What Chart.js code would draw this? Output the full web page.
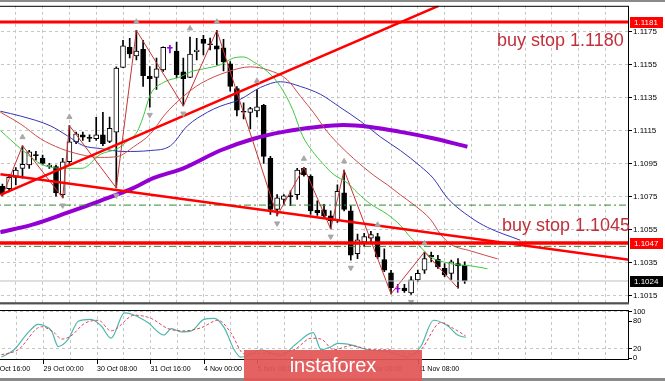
<!DOCTYPE html>
<html><head><meta charset="utf-8">
<script src="https://cdn.jsdelivr.net/npm/chart.js@4.4.0/dist/chart.umd.min.js"></script>
<style>
html,body{margin:0;padding:0;background:#fff;}
body{width:665px;height:381px;position:relative;overflow:hidden;font-family:"Liberation Sans",Arial,sans-serif;}
#main{position:absolute;left:-11px;top:0;}
#osc{position:absolute;left:-11px;top:300px;}
.note{position:absolute;color:#c0303a;font-size:18px;line-height:20px;white-space:nowrap;}
#wm{position:absolute;left:244px;top:350px;width:178px;height:31px;background:rgba(226,86,86,0.93);color:#fff;font-size:20px;text-align:center;line-height:31px;}
.edge{position:absolute;left:0;width:665px;background:#8a8a8a;}
</style></head><body>
<canvas id="main" width="676" height="310"></canvas>
<canvas id="osc" width="676" height="81"></canvas>
<div class="edge" style="top:0;height:2px"></div>
<div class="edge" style="top:378px;height:3px"></div>
<div class="note" style="left:497px;top:30px">buy stop 1.1180</div>
<div class="note" style="left:502px;top:215px">buy stop 1.1045</div>
<div id="wm">instaforex</div>
<script>
// ---------- data (H4 bars, index 0..69) ----------
const opens = [1.10814,1.10800,1.10868,1.10923,1.10943,1.11007,1.10983,1.10933,1.10933,1.10764,
1.10963,1.11083,1.11126,1.11108,1.11102,1.11126,1.11086,1.11142,1.11534,1.11657,
1.11604,1.11645,1.11480,1.11474,1.11520,1.11650,1.11634,1.11508,1.11474,1.11630,
1.11705,1.11675,1.11665,1.11653,1.11556,1.11407,1.11265,1.11262,1.11271,1.11305,
1.10983,1.10674,1.10734,1.10754,1.10764,1.10923,1.10874,1.10668,1.10672,1.10635,
1.10605,1.10774,1.10665,1.10406,1.10475,1.10499,1.10509,1.10370,1.10289,1.10190,
1.10197,1.10167,1.10247,1.10306,1.10396,1.10372,1.10316,1.10286,1.10346,1.10336];
const highs = [1.10828,1.10887,1.10927,1.11060,1.11032,1.11026,1.11003,1.10953,1.10943,1.10983,
1.11182,1.11142,1.11142,1.11126,1.11232,1.11262,1.11234,1.11538,1.11699,1.11711,
1.11759,1.11699,1.11540,1.11592,1.11659,1.11669,1.11689,1.11592,1.11719,1.11711,
1.11729,1.11713,1.11759,1.11705,1.11570,1.11419,1.11320,1.11293,1.11401,1.11311,
1.10995,1.10764,1.10764,1.10786,1.10923,1.10929,1.10883,1.10726,1.10704,1.10666,
1.10823,1.10913,1.10696,1.10525,1.10529,1.10541,1.10529,1.10435,1.10305,1.10219,
1.10219,1.10266,1.10306,1.10416,1.10416,1.10396,1.10346,1.10366,1.10376,1.10356];
const lows = [1.10756,1.10780,1.10823,1.10863,1.10923,1.10973,1.10943,1.10923,1.10754,1.10744,
1.10953,1.11072,1.11092,1.11084,1.11092,1.11060,1.11078,1.10804,1.11533,1.11592,
1.11580,1.11419,1.11293,1.11401,1.11510,1.11622,1.11472,1.11301,1.11472,1.11580,
1.11610,1.11640,1.11550,1.11514,1.11390,1.11241,1.11222,1.11162,1.11234,1.10953,
1.10644,1.10635,1.10704,1.10696,1.10734,1.10875,1.10644,1.10637,1.10625,1.10555,
1.10595,1.10665,1.10366,1.10376,1.10450,1.10465,1.10376,1.10296,1.10162,1.10171,
1.10170,1.10159,1.10237,1.10286,1.10356,1.10316,1.10266,1.10249,1.10197,1.10226];
const closes = [1.10768,1.10868,1.10913,1.10947,1.11023,1.10999,1.10953,1.10943,1.10774,1.10963,
1.11083,1.11132,1.11112,1.11105,1.11126,1.11072,1.11166,1.11530,1.11665,1.11616,
1.11634,1.11484,1.11466,1.11526,1.11657,1.11650,1.11490,1.11466,1.11616,1.11640,
1.11680,1.11672,1.11645,1.11568,1.11419,1.11275,1.11263,1.11285,1.11295,1.10995,
1.10674,1.10744,1.10756,1.10751,1.10913,1.10883,1.10665,1.10654,1.10635,1.10605,
1.10784,1.10674,1.10396,1.10489,1.10509,1.10521,1.10386,1.10306,1.10199,1.10190,
1.10181,1.10247,1.10286,1.10376,1.10386,1.10326,1.10277,1.10356,1.10332,1.10240];

const priceTicks = [1.1015,1.1035,1.1055,1.1075,1.1095,1.1115,1.1135,1.1155,1.1175];
const timeLabels = ['25 Oct 16:00','29 Oct 00:00','30 Oct 08:00','31 Oct 16:00','4 Nov 00:00','5 Nov 08:00','6 Nov 16:00','8 Nov 00:00','11 Nov 08:00'];
const timeLabelBars = [-2,6,14,22,30,38,46,54,62];
const gridBars = [-2,2,6,10,14,18,22,26,30,34,38,42,46,50,54,58,62,66,70,74,78,82,86,90];

// moving averages [bar, price]
const maFast = [[-0.3,1.11152],[2.7,1.11043],[6.1,1.10943],[9.7,1.10923],[11.9,1.10923],[14.6,1.11007],[17.2,1.11043],[18.7,1.1109],[20.1,1.11144],[21,1.11234],[22.1,1.11371],[24,1.11443],[26.6,1.11478],[28.1,1.11508],[30,1.11526],[32.5,1.1155],[34.5,1.11592],[36,1.11598],[37.5,1.11568],[39.6,1.11508],[41.5,1.11419],[43.3,1.11281],[44.8,1.1112],[46.3,1.11025],[47.8,1.10953],[49.4,1.10887],[51.5,1.10834],[53,1.10774],[54.9,1.10708],[57.5,1.10643],[59.4,1.10577],[60.9,1.10505],[62.4,1.10446],[63.9,1.10386],[65.8,1.10356],[67.9,1.10338],[69.9,1.10332],[72.4,1.10314]];
const maMid = [[-0.3,1.11263],[2.7,1.11192],[5.7,1.11102],[8.7,1.11043],[11.6,1.11007],[14.6,1.10989],[17.2,1.10995],[19.6,1.11054],[22.1,1.11132],[24.3,1.11251],[27,1.11359],[29.6,1.11437],[33.6,1.11508],[37,1.11538],[39.6,1.1152],[42.5,1.1146],[44.5,1.11359],[46.4,1.11263],[48.5,1.11144],[50.4,1.1106],[52.4,1.10983],[55.4,1.10881],[57.5,1.10822],[59.4,1.10762],[61.6,1.10696],[63.9,1.10613],[65.4,1.10523],[66.9,1.10463],[69.9,1.10422],[73.9,1.10374]];
const maSlow = [[-0.3,1.11269],[2.7,1.1124],[7.2,1.1118],[9.7,1.1112],[12.1,1.1106],[14.6,1.11043],[18.1,1.11025],[22.1,1.11031],[25.1,1.1106],[27.6,1.1118],[30.6,1.11263],[32.5,1.11299],[35.5,1.11341],[38.5,1.11413],[41.5,1.11448],[44.5,1.11419],[47.5,1.11371],[50.4,1.11293],[53.4,1.1121],[56.4,1.11114],[59.4,1.11031],[62.4,1.10935],[64.3,1.10863],[66.4,1.10744],[69.9,1.10625],[72.4,1.10565],[77.3,1.10487]];
const maLong = [[-0.3,1.10535],[4.6,1.10583],[9.7,1.10654],[14.6,1.10726],[19.6,1.10804],[22.5,1.10863],[27,1.10923],[32.5,1.11031],[37.5,1.11102],[41.9,1.11144],[47,1.11174],[50.9,1.11186],[54.9,1.11174],[59.4,1.11144],[63.9,1.11108],[69.4,1.11054]];

const zigzagBars = [0,3,9,10,17,20,27,32,41,45,49,51,58,63,68];
const fractalUpBars = [3,10,20,28,32,38,45,51,56,63];
const fractalDownBars = [9,17,22,27,41,49,52,61];

const trendUp = [[-0.3,1.10762],[65.1,1.11908]];
const trendDown = [[-0.3,1.10887],[93.6,1.10368]];
const redLevels = [1.1181,1.1047];
const greenLevels = [1.1070,1.1045];
const lastPrice = 1.1024;

const stochMain = [[-0.3,2],[1.6,18],[3.7,55],[5.2,73],[6.1,70],[7.2,59],[8.2,25],[9.7,41],[11.2,80],[13.1,84],[14.6,70],[16.1,43],[18.1,98],[19.6,93],[21.6,77],[24,50],[25.1,64],[26.6,57],[28.1,59],[30,84],[31.5,86],[33,66],[34.5,18],[35.5,2],[37,8],[38.5,18],[39.5,14],[41.5,5],[43.7,30],[46.3,55],[47.5,18],[49,25],[50,32],[51.5,30],[54.5,18],[57.5,14],[60.4,2],[62.4,25],[64.3,82],[66.4,70],[67.9,50],[69.1,45]];
const stochSignal = [[-0.3,7],[2.2,18],[5.7,68],[7.6,55],[8.7,41],[10.1,48],[12.1,75],[14.2,82],[16.1,59],[19.6,93],[22.1,86],[24.6,64],[27,59],[29.6,66],[32.1,82],[34,55],[36,9],[38.5,10],[41.5,10],[43.7,20],[46,43],[47.5,41],[49.4,18],[52,27],[55,18],[57.5,18],[60.9,9],[62.4,18],[65.4,77],[67.3,64],[69.1,48]];
const stochTicks = [0,20,80,100];

// ---------- chart ----------
Chart.defaults.font.family = '"Liberation Sans", Arial, sans-serif';
const X_MIN = -2, X_MAX = 93.52;
const bars = opens.map((_, i) => i);
const PURPLE = '#8a00e6';
const pts = arr => arr.map(([x, y]) => ({x, y}));
const hline = v => [{x: X_MIN, y: v}, {x: X_MAX, y: v}];
const lineDs = (data, color, width, extra) => Object.assign({type:'line', data, borderColor: color, borderWidth: width, pointRadius: 0, fill: false}, extra || {});

const zigzagData = zigzagBars.map((b, k) => ({x: b, y: k % 2 === 0 ? lows[b] : highs[b]}));

const frame = (bottomWidth) => ({
  id: 'frame',
  afterDraw(chart) {
    const {ctx, chartArea: a} = chart;
    ctx.save();
    ctx.strokeStyle = '#000'; ctx.lineWidth = 1;
    ctx.strokeRect(a.left + 0.5, a.top + 0.5, a.right - a.left - 1, a.bottom - a.top - 1);
    if (bottomWidth) {
      ctx.fillStyle = '#505050';
      ctx.fillRect(a.left, a.bottom - bottomWidth, a.right - a.left, bottomWidth);
    }
    ctx.restore();
  }
});

const priceBoxes = {
  id: 'priceBoxes',
  afterDraw(chart) {
    const {ctx, chartArea: a, scales} = chart;
    const list = [[redLevels[0], '#ff0000'], [redLevels[1], '#ff0000'], [lastPrice, '#000000']];
    ctx.save();
    ctx.font = '8px "Liberation Sans", Arial, sans-serif';
    ctx.textBaseline = 'middle';
    list.forEach(([v, bg]) => {
      const y = Math.round(scales.y.getPixelForValue(v));
      ctx.fillStyle = bg;
      ctx.fillRect(a.right + 1, y - 5, 33, 11);
      ctx.fillStyle = '#fff';
      ctx.fillText(v.toFixed(4), a.right + 5, y + 0.5);
    });
    ctx.restore();
  }
};

new Chart(document.getElementById('main'), {
  type: 'line',
  data: {
    datasets: [
      {type:'bar', data: bars.map(i => ({x: i, y: [lows[i], highs[i]]})),
       backgroundColor: bars.map(i => closes[i] === opens[i] ? PURPLE : '#000'),
       barThickness: 1, grouped: false, order: 20},
      {type:'bar', data: bars.map(i => ({x: i, y: [Math.min(opens[i], closes[i]), Math.max(opens[i], closes[i])]})),
       backgroundColor: bars.map(i => closes[i] > opens[i] ? '#fff' : (closes[i] < opens[i] ? '#000' : PURPLE)),
       borderColor: bars.map(i => closes[i] === opens[i] ? PURPLE : '#000'),
       borderWidth: 1, borderSkipped: false, barThickness: 5, minBarLength: 1, grouped: false, order: 19},
      lineDs(pts(maLong), '#9400d3', 4, {tension: 0.4, cubicInterpolationMode: 'monotone', order: 15}),
      lineDs(pts(maSlow), '#3434b4', 1, {cubicInterpolationMode: 'monotone', order: 14}),
      lineDs(pts(maMid), '#cc4a4a', 1, {cubicInterpolationMode: 'monotone', order: 13}),
      lineDs(pts(maFast), '#3cc83c', 1, {cubicInterpolationMode: 'monotone', order: 12}),
      lineDs(zigzagData, '#c83232', 1, {order: 11}),
      lineDs(hline(greenLevels[0]), '#2f8a2f', 1, {borderDash: [7, 3, 2, 3], order: 10}),
      lineDs(hline(greenLevels[1]), '#2f8a2f', 1, {borderDash: [7, 3, 2, 3], order: 10}),
      lineDs(hline(lastPrice), '#bdbdbd', 1, {order: 10}),
      lineDs(pts(trendUp), '#ff0000', 2.5, {order: 5}),
      lineDs(pts(trendDown), '#ff0000', 2.5, {order: 5}),
      lineDs(hline(redLevels[0]), '#ff0000', 3, {order: 4}),
      lineDs(hline(redLevels[1]), '#ff0000', 3.5, {order: 4}),
      {type:'line', showLine: false, data: fractalUpBars.map(b => ({x: b, y: highs[b] + 0.00052})),
       pointStyle: 'triangle', pointRadius: 3, backgroundColor: '#a8a8a8', borderColor: '#a8a8a8', order: 3},
      {type:'line', showLine: false, data: fractalDownBars.map(b => ({x: b, y: lows[b] - 0.00046})),
       pointStyle: 'triangle', pointRotation: 180, pointRadius: 3, backgroundColor: '#a8a8a8', borderColor: '#a8a8a8', order: 3}
    ]
  },
  options: {
    responsive: false, animation: false, devicePixelRatio: 1, events: [],
    layout: {padding: {top: 5, bottom: 2, left: 0, right: 0}, autoPadding: false},
    plugins: {legend: {display: false}, tooltip: {enabled: false}},
    scales: {
      x: {type: 'linear', min: X_MIN, max: X_MAX, offset: false,
          afterBuildTicks: s => { s.ticks = gridBars.map(v => ({value: v})); },
          ticks: {display: false}, grid: {color: '#c6c6c6', drawTicks: false, offset: false},
          border: {display: false, dash: [3, 3]},
          afterFit: s => { s.height = 0; }},
      y: {type: 'linear', position: 'right', min: 1.100993, max: 1.119082, beginAtZero: false,
          afterBuildTicks: s => { s.ticks = priceTicks.map(v => ({value: v})); },
          ticks: {autoSkip: false, color: '#000', padding: 1, font: {size: 8}, callback: v => Number(v).toFixed(4)},
          grid: {color: '#c6c6c6', tickColor: '#000', tickLength: 3, tickBorderDash: []},
          border: {display: false, dash: [3, 3]},
          afterFit: s => { s.width = 36; }}
    }
  },
  plugins: [frame(2), priceBoxes]
});

new Chart(document.getElementById('osc'), {
  type: 'line',
  data: {
    datasets: [
      lineDs(pts(stochSignal), '#d8475a', 1, {borderDash: [3, 2], cubicInterpolationMode: 'monotone'}),
      lineDs(pts(stochMain), '#4cb8ac', 1.2, {cubicInterpolationMode: 'monotone'})
    ]
  },
  options: {
    responsive: false, animation: false, devicePixelRatio: 1, events: [],
    layout: {padding: {top: 10, bottom: 0, left: 0, right: 0}, autoPadding: false},
    plugins: {legend: {display: false}, tooltip: {enabled: false}},
    scales: {
      x: {type: 'linear', min: X_MIN, max: X_MAX, offset: false,
          afterBuildTicks: s => { s.ticks = gridBars.map(v => ({value: v})); },
          ticks: {autoSkip: false, maxRotation: 0, minRotation: 0, align: 'start', padding: 1, color: '#000', font: {size: 7},
                  callback: v => { const k = timeLabelBars.indexOf(v); return k >= 0 ? timeLabels[k] : ''; }},
          grid: {color: '#c6c6c6', tickLength: 4, tickBorderDash: [], offset: false,
                 tickColor: c => (c.tick && timeLabelBars.indexOf(c.tick.value) >= 0) ? '#000' : 'rgba(0,0,0,0)'},
          border: {display: false, dash: [3, 3]},
          afterFit: s => { s.height = 21; }},
      y: {type: 'linear', position: 'right', min: -4.3, max: 104.3,
          afterBuildTicks: s => { s.ticks = stochTicks.map(v => ({value: v})); },
          ticks: {autoSkip: false, color: '#000', padding: 1, font: {size: 7.5}},
          grid: {color: c => (c.tick && (c.tick.value === 100 || c.tick.value === 20)) ? '#c6c6c6' : 'rgba(0,0,0,0)',
                 tickColor: '#000', tickLength: 3, tickBorderDash: []},
          border: {display: false, dash: [3, 3]},
          afterFit: s => { s.width = 36; }}
    }
  },
  plugins: [frame(0)]
});
</script>
</body></html>
